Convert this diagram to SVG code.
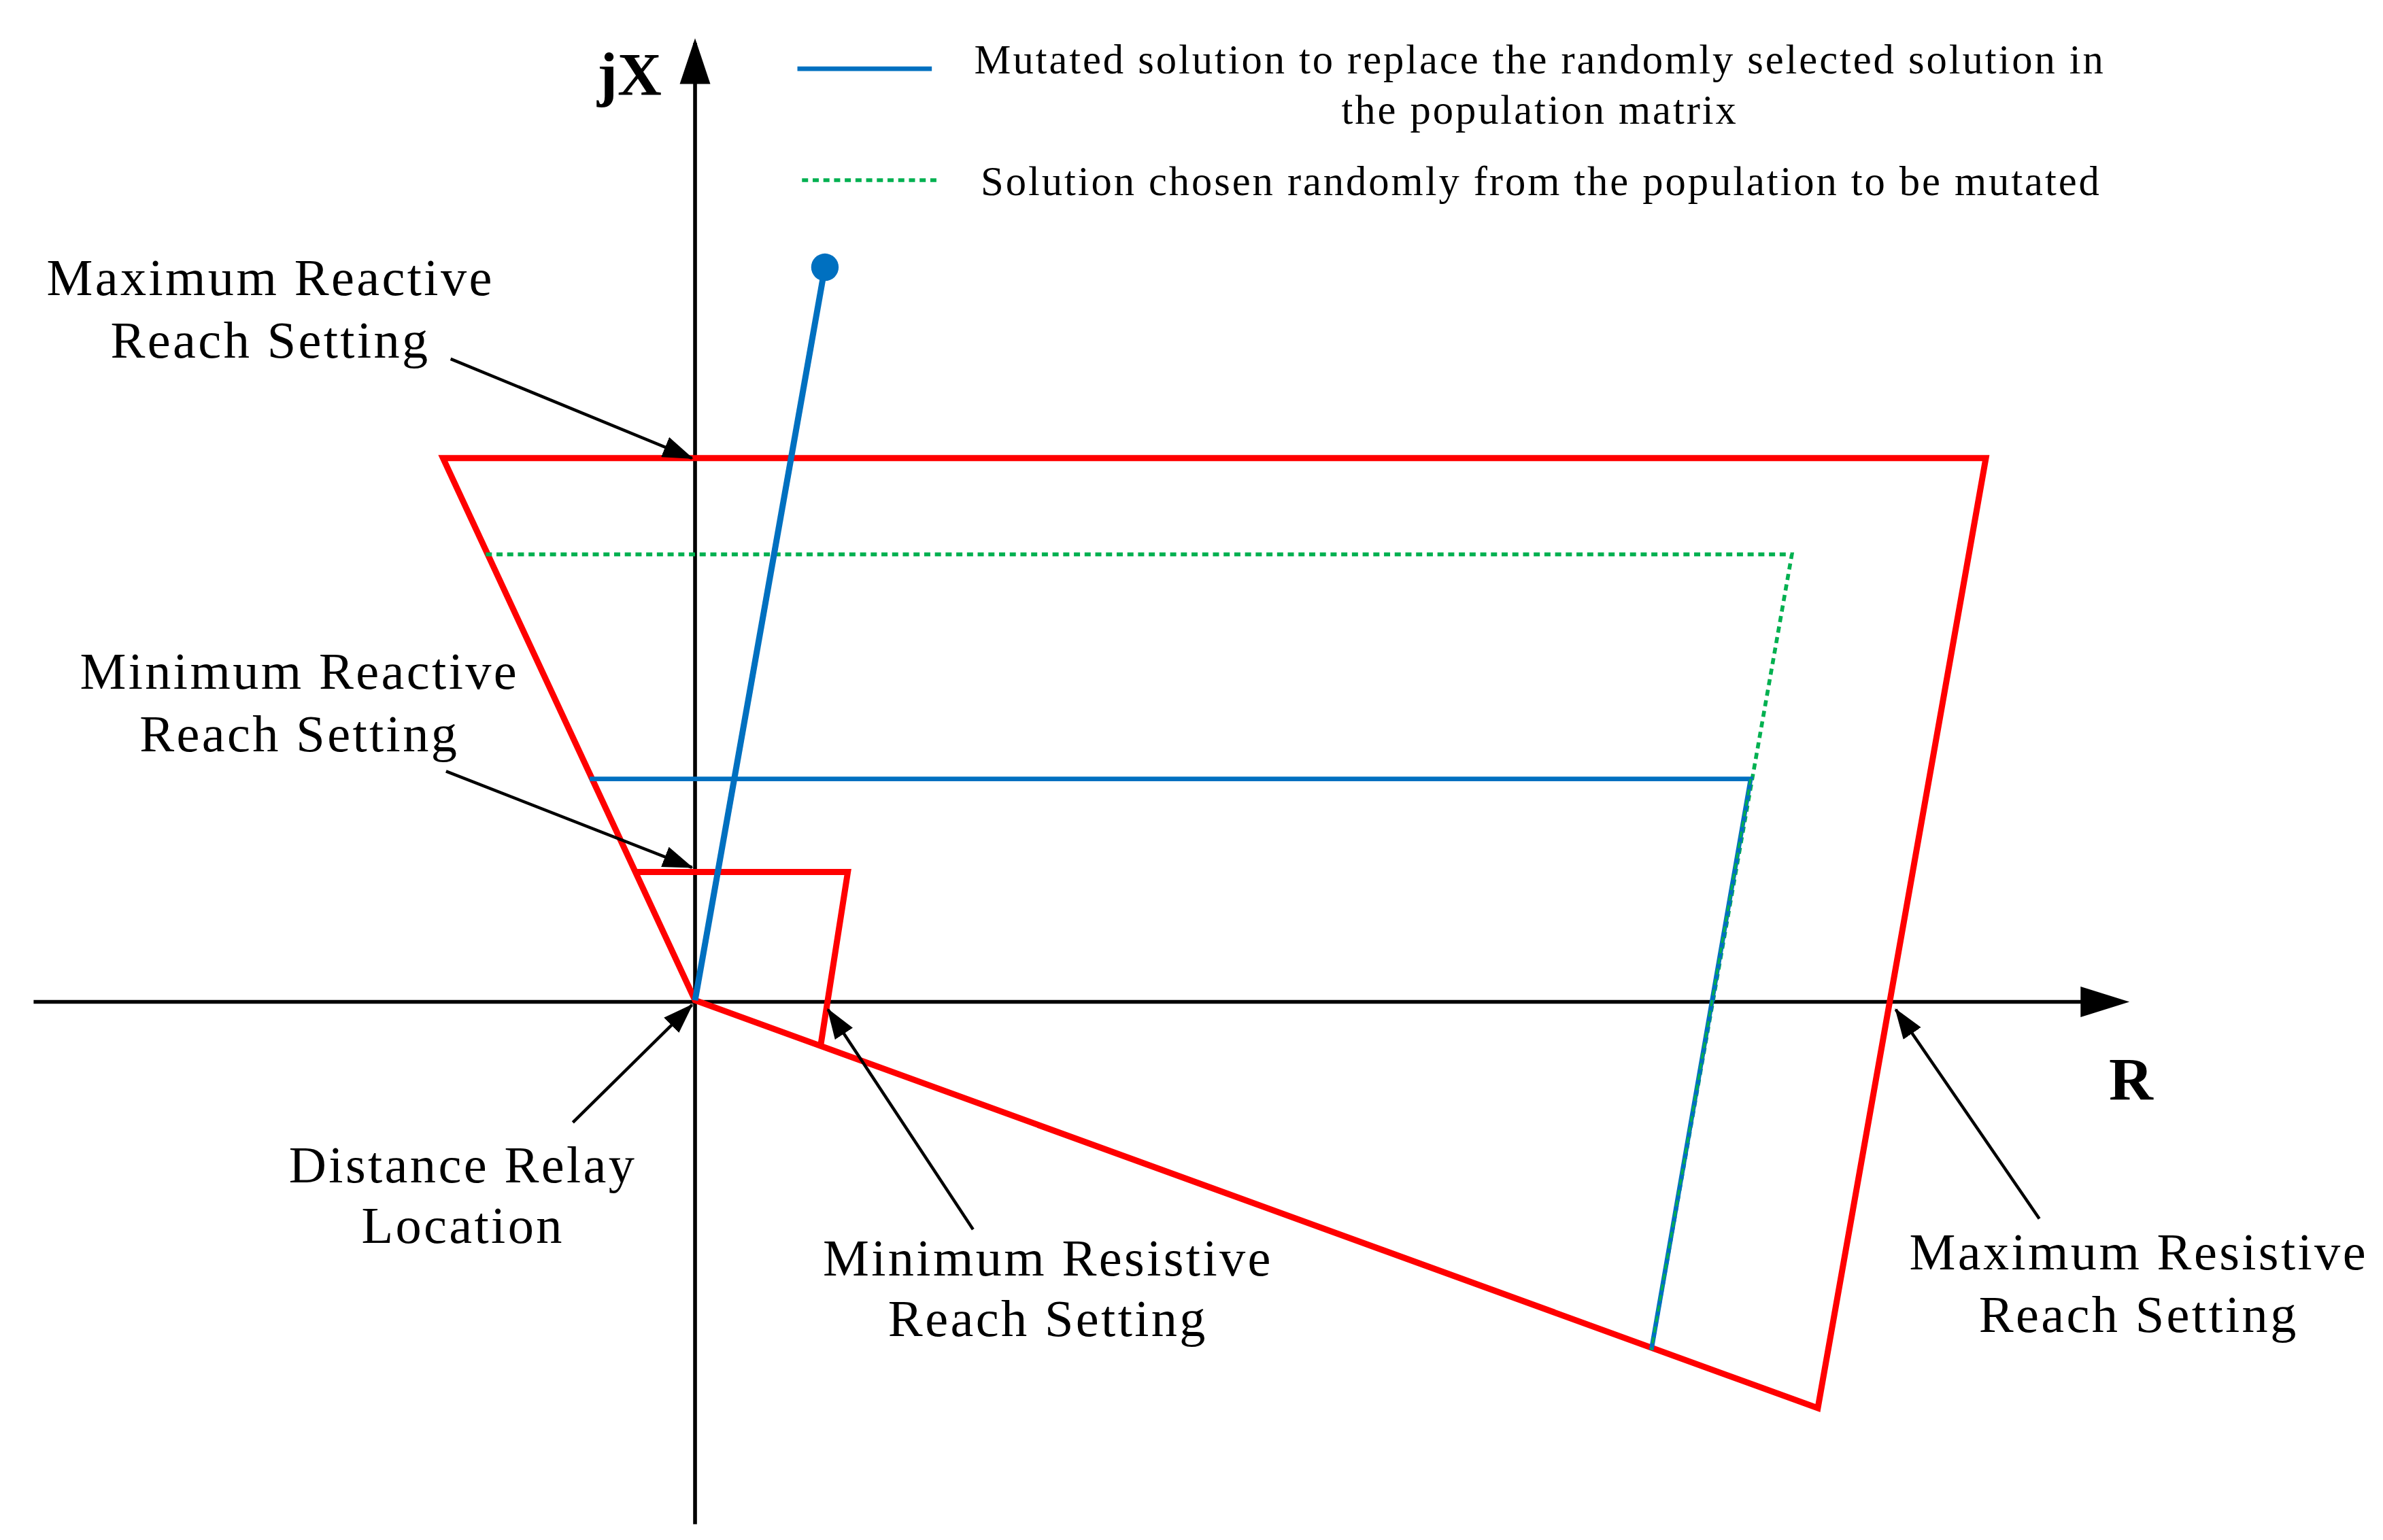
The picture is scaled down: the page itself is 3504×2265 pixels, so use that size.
<svg xmlns="http://www.w3.org/2000/svg" width="3504" height="2265" viewBox="0 0 3504 2265">
<defs>
<style>
.t{font-family:"Liberation Serif",serif;font-size:34px;letter-spacing:1.5px;fill:#000;text-anchor:middle}
.l{font-family:"Liberation Serif",serif;font-size:27px;letter-spacing:1.3px;fill:#000}
.red{fill:none;stroke:#ff0000;stroke-width:4;stroke-linejoin:miter}
.blue{fill:none;stroke:#0070c0;stroke-width:3}
.green{fill:none;stroke:#00b050;stroke-width:2.5;stroke-dasharray:4 3}
.ax{stroke:#000;stroke-width:2.5;fill:none}
.ar{stroke:#000;stroke-width:2;fill:none}
</style>
<marker id="ahs" markerWidth="20" markerHeight="14" refX="19" refY="7" orient="auto" markerUnits="userSpaceOnUse"><path d="M0,0 L20,7 L0,14 z" fill="#000"/></marker>
</defs>
<rect width="3504" height="2265" fill="#fff"/>
<g transform="scale(2.2462)">
<g id="axes">
<line class="ax" x1="455" y1="998" x2="455" y2="28"/>
<path d="M455,25 L445,55 L465,55 z" fill="#000"/>
<line class="ax" x1="22" y1="656" x2="1365" y2="656"/>
<path d="M1394,656 L1362,646 L1362,666 z" fill="#000"/>
<text x="412" y="62" style="font-family:'Liberation Serif',serif;font-size:40px;font-weight:bold" text-anchor="middle">jX</text>
<text x="1395" y="720" style="font-family:'Liberation Serif',serif;font-size:40px;font-weight:bold" text-anchor="middle">R</text>
</g>
<g id="outer-zone"><polygon class="red" points="290,300 1300,300 1190,922 455,655"/></g>
<g id="inner-zone"><polyline class="red" points="417,571 555,571 537,686"/></g>
<g id="random-solution"><polyline class="green" points="318,363 1173,363 1081,884"/></g>
<g id="mutated-solution">
<polyline class="blue" points="386,510 1146,510 1081,884"/>
<line class="green" x1="1146" y1="510" x2="1081" y2="884" style="stroke-width:1.5"/>
<line class="blue" x1="455" y1="655" x2="540" y2="175" style="stroke-width:4"/>
<circle cx="540" cy="175" r="9" fill="#0070c0"/>
</g>
<g id="legend">
<line class="blue" x1="522" y1="45" x2="610" y2="45"/>
<text class="l" x="1008" y="48" text-anchor="middle">Mutated solution to replace the randomly selected solution in</text>
<text class="l" x="1008" y="81" text-anchor="middle">the population matrix</text>
<line class="green" x1="525" y1="118" x2="615" y2="118"/>
<text class="l" x="642" y="128">Solution chosen randomly from the population to be mutated</text>
</g>
<g id="labels">
<text class="t" x="177" y="193">Maximum Reactive</text>
<text class="t" x="177" y="234">Reach Setting</text>
<text class="t" x="196" y="451">Minimum Reactive</text>
<text class="t" x="196" y="492">Reach Setting</text>
<text class="t" x="303" y="774">Distance Relay</text>
<text class="t" x="303" y="814">Location</text>
<text class="t" x="686" y="835">Minimum Resistive</text>
<text class="t" x="686" y="875">Reach Setting</text>
<text class="t" x="1400" y="831">Maximum Resistive</text>
<text class="t" x="1400" y="872">Reach Setting</text>
</g>
<g id="connectors">
<line class="ar" x1="295" y1="235" x2="453" y2="300" marker-end="url(#ahs)"/>
<line class="ar" x1="292" y1="505" x2="453" y2="568" marker-end="url(#ahs)"/>
<line class="ar" x1="375" y1="735" x2="453" y2="658" marker-end="url(#ahs)"/>
<line class="ar" x1="637" y1="805" x2="542" y2="661" marker-end="url(#ahs)"/>
<line class="ar" x1="1335" y1="798" x2="1241" y2="661" marker-end="url(#ahs)"/>
</g>
</g>
</svg>
